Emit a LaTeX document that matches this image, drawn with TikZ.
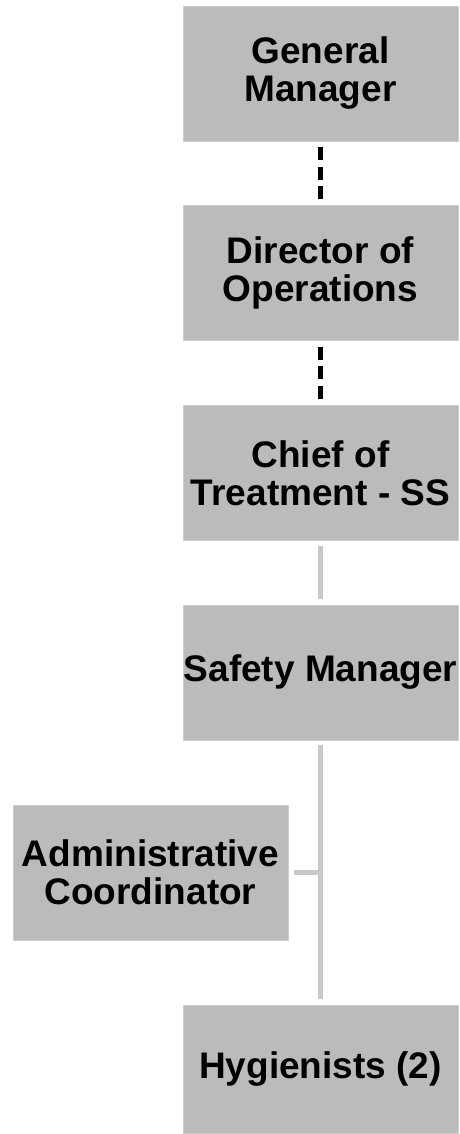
\documentclass[tikz,border=0pt]{standalone}
\usepackage{fontspec}
\setmainfont{Liberation Sans}
\definecolor{boxfill}{HTML}{BBBBBB}
\definecolor{boxedge}{HTML}{CDCDCD}
\definecolor{linkgray}{HTML}{C8C8C8}
\begin{document}
\begin{tikzpicture}[x=1pt,y=-1pt,
  orgbox/.style={fill=boxfill, draw=boxedge, line width=0.8pt,
    minimum width=275pt, minimum height=135pt, inner sep=0pt, align=center,
    font=\fontsize{37}{38}\selectfont\bfseries},
  dashlink/.style={draw=black, line width=5pt, dash pattern=on 13pt off 6.5pt,
    shorten <=6pt, shorten >=5pt},
  solidlink/.style={draw=linkgray, line width=5.5pt, shorten <=5pt, shorten >=6pt}]
\useasboundingbox (0,0) rectangle (460,1134);

% positions
\node[orgbox] (gm)    at (320.5,73.5)  {General\\Manager};
\node[orgbox] (dir)   at (320.5,273)   {Director of\\Operations};
\node[orgbox] (chief) at (320.5,473)   {Chief of\\Treatment - SS};
\node[orgbox] (safe)  at (320.5,672.5) {Safety Manager};
\node[orgbox] (admin) at (150.5,872.5) {Administrative\\Coordinator};
\node[orgbox, minimum height=128pt] (hyg) at (320.5,1069) {Hygienists (2)};

% reporting lines
\draw[dashlink] (gm.south) -- (dir.north);
\draw[dashlink] (dir.south) -- (chief.north);
\draw[solidlink] (chief.south) -- (safe.north);
\draw[solidlink] (safe.south) -- (hyg.north);
\coordinate (branch) at (admin.east -| safe.south);
\draw[solidlink, line width=5pt, shorten <=6pt, shorten >=0pt] (admin.east) -- (branch);
\end{tikzpicture}
\end{document}
